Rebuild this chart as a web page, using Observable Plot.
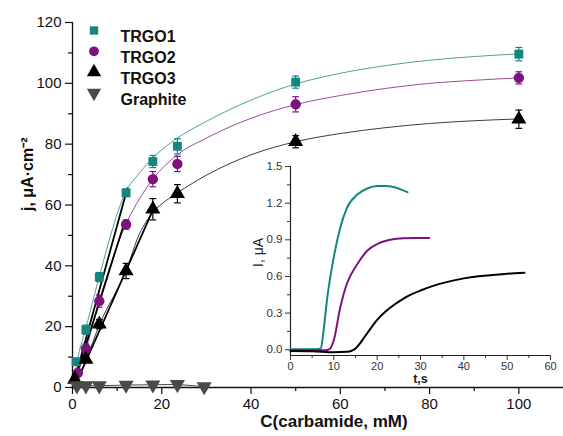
<!DOCTYPE html>
<html><head><meta charset="utf-8">
<script src="https://cdn.jsdelivr.net/npm/d3@7"></script>
<script src="https://cdn.jsdelivr.net/npm/@observablehq/plot@0.6"></script>
<style>
body{margin:0;background:#fff;}
#wrap{position:relative;width:563px;height:436px;font-family:"Liberation Sans",Arial,sans-serif;}
#main{position:absolute;left:0;top:0;}
#inset{position:absolute;left:240px;top:150px;}
</style></head><body><div id="wrap"><div id="main"></div><div id="inset"></div></div>
<script>
// ---- main chart data ----
const seriesNames = ["TRGO1", "TRGO2", "TRGO3", "Graphite"];
const seriesColors = ["#16847f", "#7d127d", "#000000", "#4a4a4a"];

const trgo1C = [0.8, 3, 6, 12, 18, 23.5, 50, 100];
const trgo1J = [8.5, 19, 36.3, 64, 74.3, 79.3, 100.4, 109.6];
const trgo1E = [1, 1.5, 1.5, 1.2, 2, 2.5, 2, 2.2];

const trgo2C = [1.2, 3, 6, 12, 18, 23.5, 50, 100];
const trgo2J = [4.8, 12.8, 28.4, 53.6, 68.5, 73.5, 93.1, 101.8];
const trgo2E = [1, 1.5, 2, 1.5, 2.5, 2.5, 2.5, 2];

const trgo3C = [0.5, 3, 6, 12, 18, 23.5, 50, 100];
const trgo3J = [2.7, 9.2, 20.8, 38.3, 58.6, 63.7, 80.8, 88.2];
const trgo3E = [1, 1, 1.5, 2.5, 3.5, 3, 2, 3];

const graphiteC = [1, 3, 6, 12, 18, 23.5, 29.5];
const graphiteJ = [0.6, 0.6, 0.6, 0.8, 0.9, 1.0, 0.3];
const graphiteE = [0.3, 0.3, 0.3, 0.3, 0.3, 0.4, 0.2];

// fitted saturation curves, values read along the thin lines of the picture
const fit1C = [0, 1, 3, 6, 12, 15, 18, 23.5, 30, 40, 50, 60, 70, 80, 90, 100];
const fit1J = [0, 8.5, 19.5, 36.5, 64.5, 70.5, 75.5, 82, 87.5, 94.5, 99.8, 103.3, 105.8, 107.6, 108.8, 109.7];
const fit2C = [0, 3, 6, 12, 15, 18, 23.5, 30, 40, 50, 60, 70, 80, 90, 100];
const fit2J = [0, 12.5, 28.5, 53.8, 62, 68.5, 76.5, 82, 88.5, 93, 96, 98.3, 100, 101, 101.8];
const fit3C = [0, 3, 6, 12, 15, 18, 21, 23.5, 30, 40, 50, 60, 70, 80, 90, 100];
const fit3J = [0, 9, 20.5, 38.5, 50.5, 57.5, 61.5, 64, 69.8, 76.5, 80.8, 83.5, 85.4, 86.8, 87.7, 88.3];

// linear (initial-slope) fits, end points
const lin1C = [0, 12.3], lin1J = [0, 65.5];
const lin2C = [0, 11.8], lin2J = [0, 55];
const lin3C = [0.4, 18.2], lin3J = [0, 59];

const xTicks = [0, 20, 40, 60, 80, 100];
const xMinor = [10, 30, 50, 70, 90];
const yTicks = [0, 20, 40, 60, 80, 100, 120];
const yMinor = [10, 30, 50, 70, 90, 110];
const xDomain = [0, 110];
const yDomain = [0, 120];

// ---- inset data ----
const tealT = [0, 3, 6, 7, 7.6, 8.5, 10, 11.5, 13, 15.4, 17.7, 20, 22, 24, 26, 27];
const tealI = [0.005, 0.005, 0.005, 0.01, 0.15, 0.43, 0.76, 1.0, 1.16, 1.27, 1.32, 1.34, 1.34, 1.33, 1.305, 1.29];
const purpleT = [0, 4, 8, 9, 10, 11.5, 13, 15.4, 17.7, 20, 23, 26, 29, 32];
const purpleI = [-0.005, -0.005, -0.005, 0.005, 0.08, 0.35, 0.54, 0.70, 0.81, 0.865, 0.90, 0.913, 0.915, 0.915];
const blackT = [0, 5, 10, 13, 14, 15, 16, 17, 18, 19, 20, 22, 24, 26, 28, 30, 34, 38, 42, 46, 50, 54];
const blackI = [-0.01, -0.012, -0.02, -0.016, -0.01, 0.01, 0.05, 0.1, 0.15, 0.2, 0.245, 0.315, 0.37, 0.417, 0.455, 0.485, 0.535, 0.57, 0.595, 0.61, 0.622, 0.63];
const tTicks = [0, 10, 20, 30, 40, 50, 60];
const tMinor = [5, 15, 25, 35, 45, 55];
const iTicks = [0, 0.3, 0.6, 0.9, 1.2, 1.5];
const iMinor = [0.15, 0.45, 0.75, 1.05, 1.35];
const insetYDomain = [-0.047, 1.5];

// ---- build tables ----
const seriesData = [
  [trgo1C, trgo1J, trgo1E],
  [trgo2C, trgo2J, trgo2E],
  [trgo3C, trgo3J, trgo3E],
  [graphiteC, graphiteJ, graphiteE]
];
const rows = seriesData.flatMap(([cs, js, es], k) =>
  cs.map((c, i) => ({series: seriesNames[k], c, j: js[i], err: es[i]})));
const fitRows = [[fit1C, fit1J], [fit2C, fit2J], [fit3C, fit3J]].flatMap(([cs, js], k) =>
  cs.map((c, i) => ({series: seriesNames[k], c, j: js[i]})));
const linRows = [[lin1C, lin1J], [lin2C, lin2J], [lin3C, lin3J]].flatMap(([cs, js], k) =>
  cs.map((c, i) => ({series: seriesNames[k], c, j: js[i]})));

const capSymbol = {draw(ctx, size) { const w = Math.sqrt(size) / 2; ctx.moveTo(-w, 0); ctx.lineTo(w, 0); }};
const symbols = ["square", "circle", "triangle", "triangle"];
const rotations = [0, 0, 0, 180];
const sizes = [5, 5.2, 5.6, 5.6];
const font = "Liberation Sans, Arial, sans-serif";

const markerMarks = seriesNames.map((name, k) =>
  Plot.dot(rows.filter(d => d.series === name), {
    x: "c", y: "j", symbol: symbols[k], r: sizes[k], rotate: rotations[k],
    fill: seriesColors[k], stroke: "none"
  }));

const legendMarks = seriesNames.flatMap((name, k) => [
  Plot.dot([name], {frameAnchor: "top-left", dx: 21.5, dy: 8 + k * 20.8, symbol: symbols[k],
    r: sizes[k] - 0.3, rotate: rotations[k], fill: seriesColors[k]}),
  Plot.text([name], {frameAnchor: "top-left", dx: 48, dy: 8.5 + k * 20.8, text: d => d,
    textAnchor: "start", fontWeight: "bold", fontSize: 16, fill: "#111"})
]);

const main = Plot.plot({
  width: 563, height: 436,
  marginLeft: 72, marginRight: 0, marginTop: 22, marginBottom: 49,
  style: {fontFamily: font, background: "transparent", overflow: "visible"},
  x: {domain: xDomain, axis: null},
  y: {domain: yDomain, axis: null},
  color: {domain: seriesNames, range: seriesColors},
  marks: [
    Plot.axisY(yTicks, {tickSize: 7, tickPadding: 4, fontSize: 15, label: null, color: "#111", strokeWidth: 1.2}),
    Plot.axisY(yMinor, {tickSize: 4, tickFormat: () => "", label: null, color: "#111", strokeWidth: 1.2}),
    Plot.axisX(xTicks, {tickSize: 7, tickPadding: 4, fontSize: 15, label: null, color: "#111", strokeWidth: 1.2}),
    Plot.axisX(xMinor, {tickSize: 4, tickFormat: () => "", label: null, color: "#111", strokeWidth: 1.2}),
    Plot.ruleX([0], {stroke: "#111", strokeWidth: 1.3}),
    Plot.ruleY([0], {stroke: "#111", strokeWidth: 1.3}),
    Plot.line(fitRows, {x: "c", y: "j", z: "series", stroke: "series", strokeWidth: 0.9, strokeOpacity: 0.85, curve: "monotone-x"}),
    Plot.line(rows.filter(d => d.series === "Graphite"), {x: "c", y: "j", stroke: "#4a4a4a", strokeWidth: 1}),
    Plot.line(linRows, {x: "c", y: "j", z: "series", stroke: "#000", strokeWidth: 1.8}),
    Plot.ruleX(rows, {x: "c", y1: d => d.j - d.err, y2: d => d.j + d.err, stroke: "series", strokeWidth: 1.2}),
    Plot.dot(rows, {x: "c", y: d => d.j + d.err, symbol: capSymbol, r: 3.8, stroke: "series", strokeWidth: 1.2, fill: "none"}),
    Plot.dot(rows, {x: "c", y: d => d.j - d.err, symbol: capSymbol, r: 3.8, stroke: "series", strokeWidth: 1.2, fill: "none"}),
    ...markerMarks,
    ...legendMarks,
    Plot.text(["j, μA·cm⁻²"], {frameAnchor: "left", dx: -45, dy: 6, rotate: -90, text: d => d, fontWeight: "bold", fontSize: 16, fill: "#111"}),
    Plot.text(["C(carbamide, mM)"], {frameAnchor: "bottom", dx: 16, dy: 39, text: d => d, fontWeight: "bold", fontSize: 17, fill: "#111"})
  ]
});
document.getElementById("main").appendChild(main);

const inset = Plot.plot({
  width: 323, height: 236,
  marginLeft: 50, marginRight: 13, marginTop: 16, marginBottom: 31,
  style: {fontFamily: font, background: "transparent", overflow: "visible"},
  x: {domain: [0, 60], axis: null},
  y: {domain: insetYDomain, axis: null},
  marks: [
    Plot.axisX(tTicks, {tickSize: 5, tickPadding: 2, fontSize: 11, label: null, color: "#333"}),
    Plot.axisX(tMinor, {tickSize: 3, tickFormat: () => "", label: null, color: "#333"}),
    Plot.axisY(iTicks, {tickSize: 5, tickPadding: 3, fontSize: 11.5, label: null, color: "#333", tickFormat: d3.format(".1f")}),
    Plot.axisY(iMinor, {tickSize: 3, tickFormat: () => "", label: null, color: "#333"}),
    Plot.ruleX([0], {stroke: "#222", strokeWidth: 1.2}),
    Plot.ruleY([insetYDomain[0]], {stroke: "#222", strokeWidth: 1.2}),
    Plot.line(tealT.map((t, i) => ({t, v: tealI[i]})), {x: "t", y: "v", stroke: seriesColors[0], strokeWidth: 2, curve: "monotone-x"}),
    Plot.line(purpleT.map((t, i) => ({t, v: purpleI[i]})), {x: "t", y: "v", stroke: seriesColors[1], strokeWidth: 2, curve: "monotone-x"}),
    Plot.line(blackT.map((t, i) => ({t, v: blackI[i]})), {x: "t", y: "v", stroke: "#000", strokeWidth: 2, curve: "monotone-x"}),
    Plot.text(["t,s"], {frameAnchor: "bottom", dy: 27, text: d => d, fontWeight: "bold", fontSize: 12.5, fill: "#222"}),
    Plot.text(["I, μA"], {frameAnchor: "left", dx: -32, dy: 6, rotate: -90, text: d => d, fontSize: 14, fill: "#222"})
  ]
});
document.getElementById("inset").appendChild(inset);
</script></body></html>
